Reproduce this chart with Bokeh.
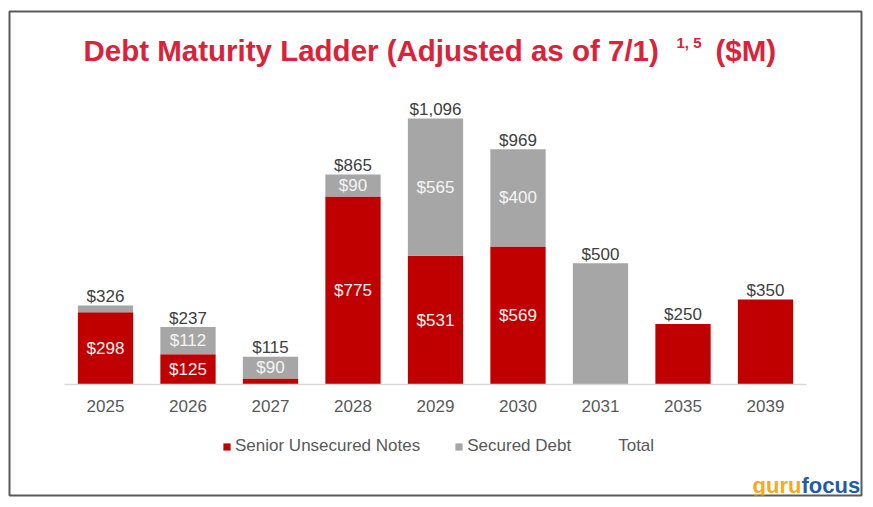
from bokeh.plotting import figure
from bokeh.models import ColumnDataSource, FactorRange, Range1d, Label
from bokeh.core.properties import value
from bokeh.embed import file_html
from bokeh.resources import INLINE

# ---- data ----
years = ["2025", "2026", "2027", "2028", "2029", "2030", "2031", "2035", "2039"]
senior = [298, 125, 25, 775, 531, 569, 0, 250, 350]
secured = [28, 112, 90, 90, 565, 400, 500, 0, 0]
totals = [326, 237, 115, 865, 1096, 969, 500, 250, 350]
senior_shown = [True, True, False, True, True, True, False, False, False]
secured_shown = [False, True, True, True, True, True, False, False, False]
series_names = ["Senior Unsecured Notes", "Secured Debt", "Total"]
title_main = "Debt Maturity Ladder (Adjusted as of 7/1)"
title_sup = "1, 5"
title_unit = "($M)"

RED = "#C00000"
GRAY = "#A6A6A6"
FONT = "Liberation Sans"

OFF = 1  # observed page offset of the figure
ML, MR, MT, MB = 10 - OFF, 3, 12 - OFF, 3
frame_w, frame_h = 852, 484
W = ML + frame_w + MR
H = MT + frame_h + MB
px_per_cat = 82.5
pad = frame_w / px_per_cat - len(years)  # total padding, split on both sides
y_lo, y_hi = -457, 1537
u_per_px = (y_hi - y_lo) / frame_h

# helpers to convert page pixel positions of decorations to data coordinates
x0_page = OFF + ML + (pad / 2) * px_per_cat


def xd(px):
    return (px - x0_page) / px_per_cat


base_page = OFF + MT + y_hi / u_per_px


def yd(py):
    return (base_page - py) * u_per_px


src = ColumnDataSource(dict(year=years, senior=senior, secured=secured, total=totals))

p = figure(
    x_range=FactorRange(*years, range_padding=pad / 2, range_padding_units="absolute"),
    y_range=Range1d(y_lo, y_hi),
    width=W, height=H,
    output_backend="svg", toolbar_location=None,
    y_axis_location=None,
    min_border_left=ML, min_border_right=MR, min_border_top=MT, min_border_bottom=MB,
)
p.xgrid.visible = False
p.ygrid.visible = False
p.outline_line_color = "#5A5A5A"
p.outline_line_width = 2
p.background_fill_color = "white"
p.border_fill_color = "white"

p.vbar_stack(["senior", "secured"], x="year", width=0.67, color=[RED, GRAY],
             line_color=None, source=src, legend_label=series_names[:2])
p.vbar(x="year", top="total", width=0.67, source=src, fill_alpha=0, line_alpha=0,
       legend_label=series_names[2])

# inside labels
sx, sy, st = [], [], []
for i, y in enumerate(years):
    if senior_shown[i]:
        sx.append(y); sy.append(senior[i] / 2); st.append(f"${senior[i]:,}")
    if secured_shown[i]:
        sx.append(y); sy.append(senior[i] + secured[i] / 2); st.append(f"${secured[i]:,}")
p.text(x=sx, y=sy, text=st, text_align="center", text_baseline="middle",
       text_color="#F5F5F5", text_font=value(FONT), text_font_size="17px")

# totals
p.text(x=years, y=totals, text=[f"${t:,}" for t in totals], text_align="center",
       text_baseline="alphabetic", y_offset=-9,
       text_color="#404040", text_font=value(FONT), text_font_size="17px")

# axis
ax = p.xaxis[0]
ax.fixed_location = 0
ax.bounds = (0, len(years))
ax.axis_line_color = "#D9D9D9"
ax.axis_line_width = 1.5
ax.major_tick_line_color = None
ax.minor_tick_line_color = None
ax.major_tick_out = 0
ax.major_label_standoff = 15
ax.major_label_text_font = FONT
ax.major_label_text_font_size = "17px"
ax.major_label_text_color = "#595959"

# legend
lg = p.legend[0]
lg.orientation = "horizontal"
lg.location = (213, 39)
lg.padding = 0
lg.margin = 0
lg.spacing = 34
lg.label_standoff = 4
lg.glyph_width = 9
lg.glyph_height = 9
lg.label_height = 17
lg.label_text_font = FONT
lg.label_text_font_size = "17px"
lg.label_text_color = "#595959"
lg.background_fill_alpha = 0
lg.border_line_alpha = 0

# title
TRED = "#D9233A"
p.add_layout(Label(x=xd(84), y=yd(51), text=title_main, text_font=FONT, text_font_style="bold",
                   text_font_size="29.5px", text_color=TRED, text_baseline="alphabetic"))
p.add_layout(Label(x=xd(677), y=yd(43), text=title_sup, text_font=FONT, text_font_style="bold",
                   text_font_size="15px", text_color=TRED, text_baseline="alphabetic"))
p.add_layout(Label(x=xd(716), y=yd(51), text=title_unit, text_font=FONT, text_font_style="bold",
                   text_font_size="29.5px", text_color=TRED, text_baseline="alphabetic"))

# watermark logo
p.add_layout(Label(x=xd(802), y=yd(486), text="guru", text_font=FONT, text_font_style="bold",
                   text_font_size="22px", text_color="#F7A81B", text_align="right",
                   text_baseline="alphabetic"))
p.add_layout(Label(x=xd(802), y=yd(486), text="focus", text_font=FONT, text_font_style="bold",
                   text_font_size="22px", text_color="#1F5BA8", text_align="left",
                   text_baseline="alphabetic"))

open("out.html", "w").write(file_html(p, INLINE))
